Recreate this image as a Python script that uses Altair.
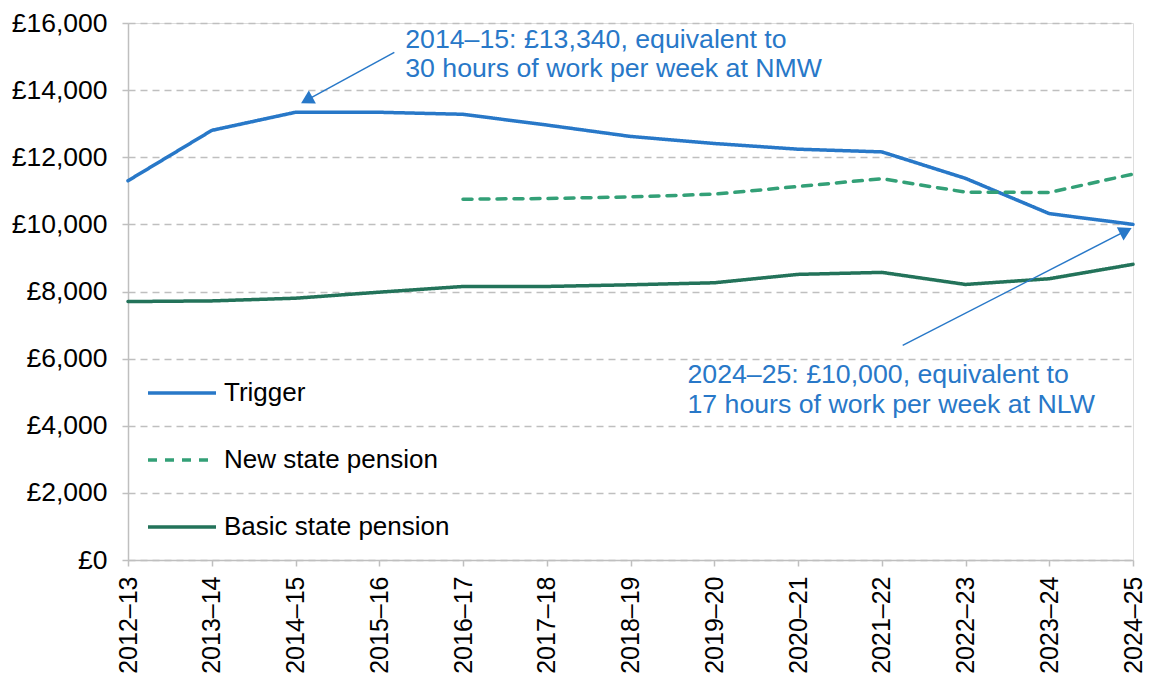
import math
import altair as alt
import pandas as pd

# ---------------- data ----------------
years = ["2012–13", "2013–14", "2014–15", "2015–16", "2016–17", "2017–18", "2018–19",
         "2019–20", "2020–21", "2021–22", "2022–23", "2023–24", "2024–25"]
trigger = [11300, 12800, 13340, 13340, 13280, 12960, 12620, 12410, 12240, 12160, 11370, 10320, 10000]
new_sp = [None, None, None, None, 10750, 10770, 10820, 10900, 11130, 11360, 10960, 10950, 11500]
basic_sp = [7700, 7720, 7800, 7980, 8150, 8150, 8200, 8260, 8510, 8570, 8210, 8380, 8810]
series_names = ["Trigger", "New state pension", "Basic state pension"]
series_colors = ["#2878C8", "#33A077", "#23735A"]

y_ticks = [0, 2000, 4000, 6000, 8000, 10000, 12000, 14000, 16000]

# annotations (in data units: x = year index, y = £)
note_text = ["2014–15: £13,340, equivalent to", "30 hours of work per week at NMW",
             "2024–25: £10,000, equivalent to", "17 hours of work per week at NLW"]
note_x = [3.31, 3.31, 6.68, 6.68]
note_y = [15246, 14382, 5265, 4371]

arrow_x0 = [3.18, 9.25]
arrow_y0 = [15127, 6397]
arrow_x1 = [2.05, 12.0]
arrow_y1 = [13587, 9913]

# ---------------- layout constants ----------------
W, H = 1005, 537
X_MAX, Y_MAX = 12, 16000
BLUE = series_colors[0]
FONT = "Liberation Sans"

rows = []
for name, vals in zip(series_names, [trigger, new_sp, basic_sp]):
    for i, v in enumerate(vals):
        if v is not None:
            rows.append({"idx": i, "year": years[i], "series": name, "value": v})
df = pd.DataFrame(rows)

notes = pd.DataFrame({"x": note_x, "y": note_y, "text": note_text})

# arrow heads: angle & centre pulled back from tip along the direction
heads = []
for x0, y0, x1, y1 in zip(arrow_x0, arrow_y0, arrow_x1, arrow_y1):
    dxp = (x1 - x0) * W / X_MAX
    dyp = -(y1 - y0) * H / Y_MAX
    L = math.hypot(dxp, dyp)
    ang = math.degrees(math.atan2(dxp, -dyp)) % 360
    back = 8.0
    cx = x1 - (dxp / L) * back * X_MAX / W
    cy = y1 + (dyp / L) * back * Y_MAX / H
    heads.append({"x0": x0, "y0": y0, "x1": cx, "y1": cy, "angle": ang})
arrows = pd.DataFrame(heads)

label_expr = "[" + ",".join("'" + y + "'" for y in years) + "][datum.value]"

x_enc = alt.X(
    "idx:Q",
    scale=alt.Scale(domain=[0, X_MAX], nice=False, zero=False),
    axis=alt.Axis(values=list(range(len(years))), labelExpr=label_expr, labelAngle=270,
                  labelFontSize=25, labelColor="#000000", grid=False, tickSize=6,
                  labelPadding=10, title=None, domainColor="#BFBFBF", tickColor="#BFBFBF",
                  domainWidth=1.5, tickWidth=1.5),
)
y_enc = alt.Y(
    "value:Q",
    scale=alt.Scale(domain=[0, Y_MAX], nice=False),
    axis=alt.Axis(values=y_ticks, labelExpr="'£' + format(datum.value, ',')",
                  labelFontSize=26.5, labelColor="#000000", grid=True, gridDash=[7, 5],
                  gridColor="#BFBFBF", gridWidth=1.3, tickSize=6, labelPadding=15,
                  title=None, domainColor="#BFBFBF", tickColor="#BFBFBF",
                  domainWidth=1.5, tickWidth=1.5),
)

legend = alt.Legend(orient="none", legendX=18, legendY=334, title=None,
                    symbolType="stroke", symbolSize=4624, symbolStrokeWidth=3.5,
                    labelFontSize=26, labelColor="#000000", labelOffset=6,
                    labelLimit=0, rowPadding=18, padding=0, labelFont=FONT)

lines = alt.Chart(df).mark_line(strokeWidth=3.5, strokeJoin="round", strokeCap="round").encode(
    x=x_enc,
    y=y_enc,
    color=alt.Color("series:N", scale=alt.Scale(domain=series_names, range=series_colors),
                    legend=legend),
    strokeDash=alt.StrokeDash("series:N",
                              scale=alt.Scale(domain=series_names,
                                              range=[[1, 0], [9, 8], [1, 0]]),
                              legend=legend),
    detail="series:N",
)

text = alt.Chart(notes).mark_text(align="left", baseline="alphabetic", fontSize=26.7,
                                  color=BLUE, font=FONT).encode(
    x=alt.X("x:Q"), y=alt.Y("y:Q"), text="text:N")

rules = alt.Chart(arrows).mark_rule(color=BLUE, strokeWidth=1.5).encode(
    x="x0:Q", y="y0:Q", x2="x1:Q", y2="y1:Q")

points = alt.Chart(arrows).mark_point(shape="triangle-up", filled=True, size=220,
                                      color=BLUE, opacity=1).encode(
    x="x1:Q", y="y1:Q", angle=alt.Angle("angle:Q", scale=None))

chart = alt.layer(lines, rules, points, text).properties(
    width=W, height=H,
    padding={"left": 120, "top": 15, "right": 13, "bottom": 114},
    autosize=alt.AutoSizeParams(type="none"),
).configure_view(stroke=None).configure(font=FONT)

chart.save("out.html", embed_options={"renderer": "svg", "actions": False})
